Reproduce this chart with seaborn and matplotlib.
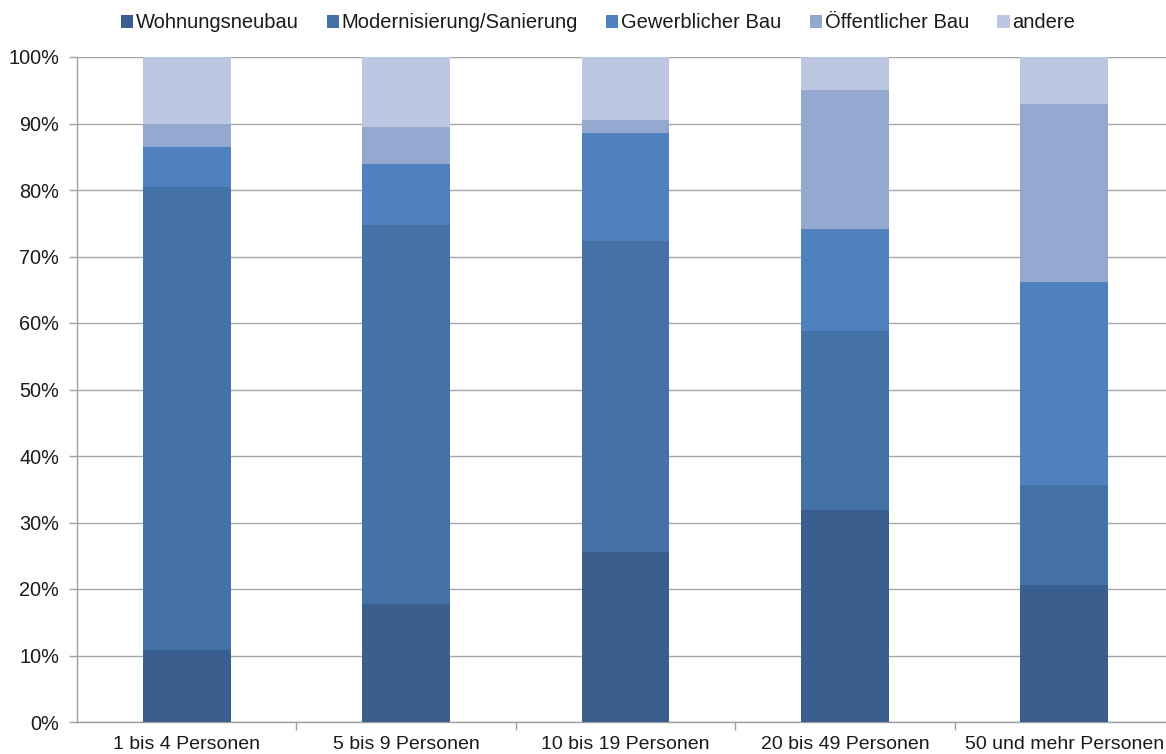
import matplotlib
matplotlib.use("Agg")
import matplotlib.pyplot as plt
from matplotlib.patches import Patch
from matplotlib.ticker import FixedLocator, PercentFormatter
import seaborn as sns
import numpy as np
import pandas as pd

categories = ["1 bis 4 Personen", "5 bis 9 Personen", "10 bis 19 Personen",
              "20 bis 49 Personen", "50 und mehr Personen"]
series_names = ["Wohnungsneubau", "Modernisierung/Sanierung", "Gewerblicher Bau",
                "Öffentlicher Bau", "andere"]
wohnungsneubau = [10.9, 17.7, 25.5, 31.9, 20.6]
modernisierung = [69.6, 57.0, 46.8, 26.9, 15.0]
gewerblich = [6.0, 9.2, 16.3, 15.3, 30.5]
oeffentlich = [3.5, 5.6, 2.0, 20.9, 26.8]
andere = [10.0, 10.5, 9.4, 5.0, 7.1]
colors = ["#3A5F8E", "#4472A6", "#4E81BD", "#95A9D0", "#BCC8E1"]

sns.set_theme(style="white")
plt.rcParams["font.family"] = ["Liberation Sans", "DejaVu Sans"]

fig = plt.figure(figsize=(11.66, 7.54), dpi=100)
ax = fig.add_axes([77/1166, 32/754, (1174-77)/1166, (722-57)/754])

vals = np.array([wohnungsneubau, modernisierung, gewerblich, oeffentlich, andere])
cum = np.cumsum(vals, axis=0)

for i in range(len(series_names) - 1, -1, -1):
    df = pd.DataFrame({"cat": categories, "val": cum[i]})
    sns.barplot(data=df, x="cat", y="val", color=colors[i], width=0.4,
                saturation=1, ax=ax, zorder=3, edgecolor="none", linewidth=0)

ax.set_xlim(-0.5, 4.5)
ax.set_ylim(0, 100)
ax.yaxis.set_major_locator(FixedLocator(np.arange(0, 101, 10)))
ax.yaxis.set_major_formatter(PercentFormatter(decimals=0))
ax.grid(axis="y", color="#A6A6A6", linewidth=1, zorder=0)
ax.set_axisbelow(True)
ax.set_xlabel("")
ax.set_ylabel("")

for s in ["top", "right"]:
    ax.spines[s].set_visible(False)
for s in ["left", "bottom"]:
    ax.spines[s].set_color("#A0A0A0")
    ax.spines[s].set_linewidth(1)

ax.tick_params(axis="y", length=6, color="#A0A0A0", width=1, labelsize=14.3,
               labelcolor="#1a1a1a", direction="out", pad=7, left=True)
ax.tick_params(axis="x", which="major", length=0, labelsize=14,
               labelcolor="#1a1a1a", pad=10)
ax.xaxis.set_minor_locator(FixedLocator([0.5, 1.5, 2.5, 3.5]))
ax.tick_params(axis="x", which="minor", length=6, color="#A0A0A0", width=1,
               direction="out", bottom=True)

handles = [Patch(facecolor=c, edgecolor="none") for c in colors]
fig.legend(handles, series_names, loc="center", bbox_to_anchor=(598/1166, 1 - 23/754),
           ncol=5, frameon=False, fontsize=14.5, handlelength=0.6, handleheight=0.6,
           handletextpad=0.15, columnspacing=1.4, labelcolor="#1a1a1a")

fig.savefig("out.png", dpi=100)
